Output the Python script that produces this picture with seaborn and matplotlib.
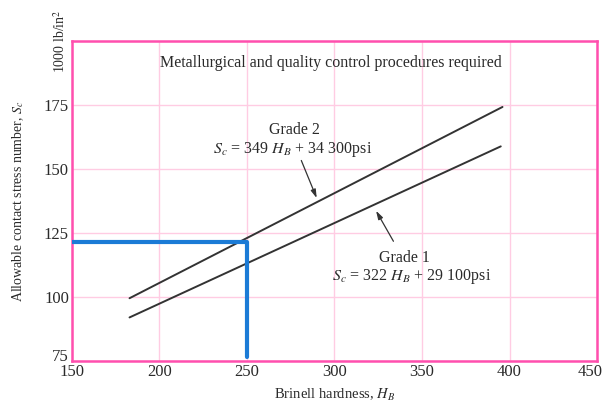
import matplotlib
matplotlib.use("Agg")
import matplotlib.pyplot as plt
import matplotlib.transforms as mtransforms
import seaborn as sns
import pandas as pd

# Brinell hardness vs allowable contact stress (kpsi), end points of each grade line
grade1_hb = [183, 395]
grade1_sc = [92.0, 158.8]
grade2_hb = [183, 396]
grade2_sc = [99.5, 174.2]

# Worked example: HB = 250 read across to the Grade 2 line
example_hb = 250
example_sc = 121.55
example_floor = 76.5

x_ticks = [150, 200, 250, 300, 350, 400, 450]
y_ticks = [75, 100, 125, 150, 175]

sns.set_style("white")
plt.rcParams["font.family"] = ["Liberation Serif", "DejaVu Serif"]
plt.rcParams["mathtext.fontset"] = "stix"

pink = "#ff4fae"
grid_pink = "#ffcce3"
text_col = "#2a2a2a"

df = pd.concat([
    pd.DataFrame({"hb": grade1_hb, "sc": grade1_sc, "grade": "Grade 1"}),
    pd.DataFrame({"hb": grade2_hb, "sc": grade2_sc, "grade": "Grade 2"}),
])

fig = plt.figure(figsize=(6.08, 4.13), dpi=100)
ax = fig.add_axes([0.118, 0.126, 0.864, 0.775])

ax.set_xlim(150, 450)
ax.set_ylim(75, 200)
ax.set_xticks(x_ticks)
ax.set_yticks(y_ticks + [200])
ax.set_yticklabels([str(v) for v in y_ticks] + [""])
ax.grid(True, color=grid_pink, linewidth=1.0)
ax.set_axisbelow(True)
for s in ax.spines.values():
    s.set_color(pink)
    s.set_linewidth(1.8)
ax.tick_params(length=0, labelsize=12, colors=text_col, pad=2)

# lift the lowest y value so it sits above the first x value
lbl75 = ax.get_yticklabels()[0]
lbl75.set_transform(lbl75.get_transform() +
                    mtransforms.ScaledTranslation(0, 4 / 72, fig.dpi_scale_trans))
# keep the last x value inside the figure
lbl450 = ax.get_xticklabels()[-1]
lbl450.set_transform(lbl450.get_transform() +
                     mtransforms.ScaledTranslation(-5 / 72, 0, fig.dpi_scale_trans))

sns.lineplot(data=df, x="hb", y="sc", units="grade", estimator=None,
             color="#333333", linewidth=1.4, legend=False, ax=ax)

blue = "#1b7bd6"
ax.plot([150, example_hb], [example_sc, example_sc], color=blue, lw=3.0,
        solid_capstyle="butt", zorder=4)
ax.plot([example_hb, example_hb], [example_sc, example_floor], color=blue, lw=3.0,
        solid_capstyle="round", zorder=4)

ax.text(298, 191.5, "Metallurgical and quality control procedures required",
        ha="center", va="center", fontsize=11.5, color=text_col)

ax.text(277, 165.2, "Grade 2", ha="center", va="center", fontsize=11.5, color=text_col)
ax.text(276, 157.6, r"$S_c$ = 349 $H_B$ + 34 300psi", ha="center", va="center",
        fontsize=11.5, color=text_col)
ax.annotate("", xy=(290.5, 137.6), xytext=(280.5, 154.3),
            arrowprops=dict(arrowstyle="-|>,head_length=0.5,head_width=0.15",
                            color="#333333", lw=0.9))

ax.text(340, 115.3, "Grade 1", ha="center", va="center", fontsize=11.5, color=text_col)
ax.text(344, 107.8, r"$S_c$ = 322 $H_B$ + 29 100psi", ha="center", va="center",
        fontsize=11.5, color=text_col)
ax.annotate("", xy=(323, 134.6), xytext=(334.5, 120.8),
            arrowprops=dict(arrowstyle="-|>,head_length=0.5,head_width=0.15",
                            color="#333333", lw=0.9))

ax.set_xlabel(r"Brinell hardness, $H_B$", fontsize=10.5, color=text_col, labelpad=5)
ax.set_ylabel(r"Allowable contact stress number, $S_c$", fontsize=10,
              color=text_col, labelpad=13)

# unit label in place of the top tick value
ax.text(-0.022, 1.0, r"1000 lb/in$^2$", transform=ax.transAxes, rotation=90,
        ha="center", va="center", fontsize=10, color=text_col)

fig.savefig("out.png", dpi=100)
